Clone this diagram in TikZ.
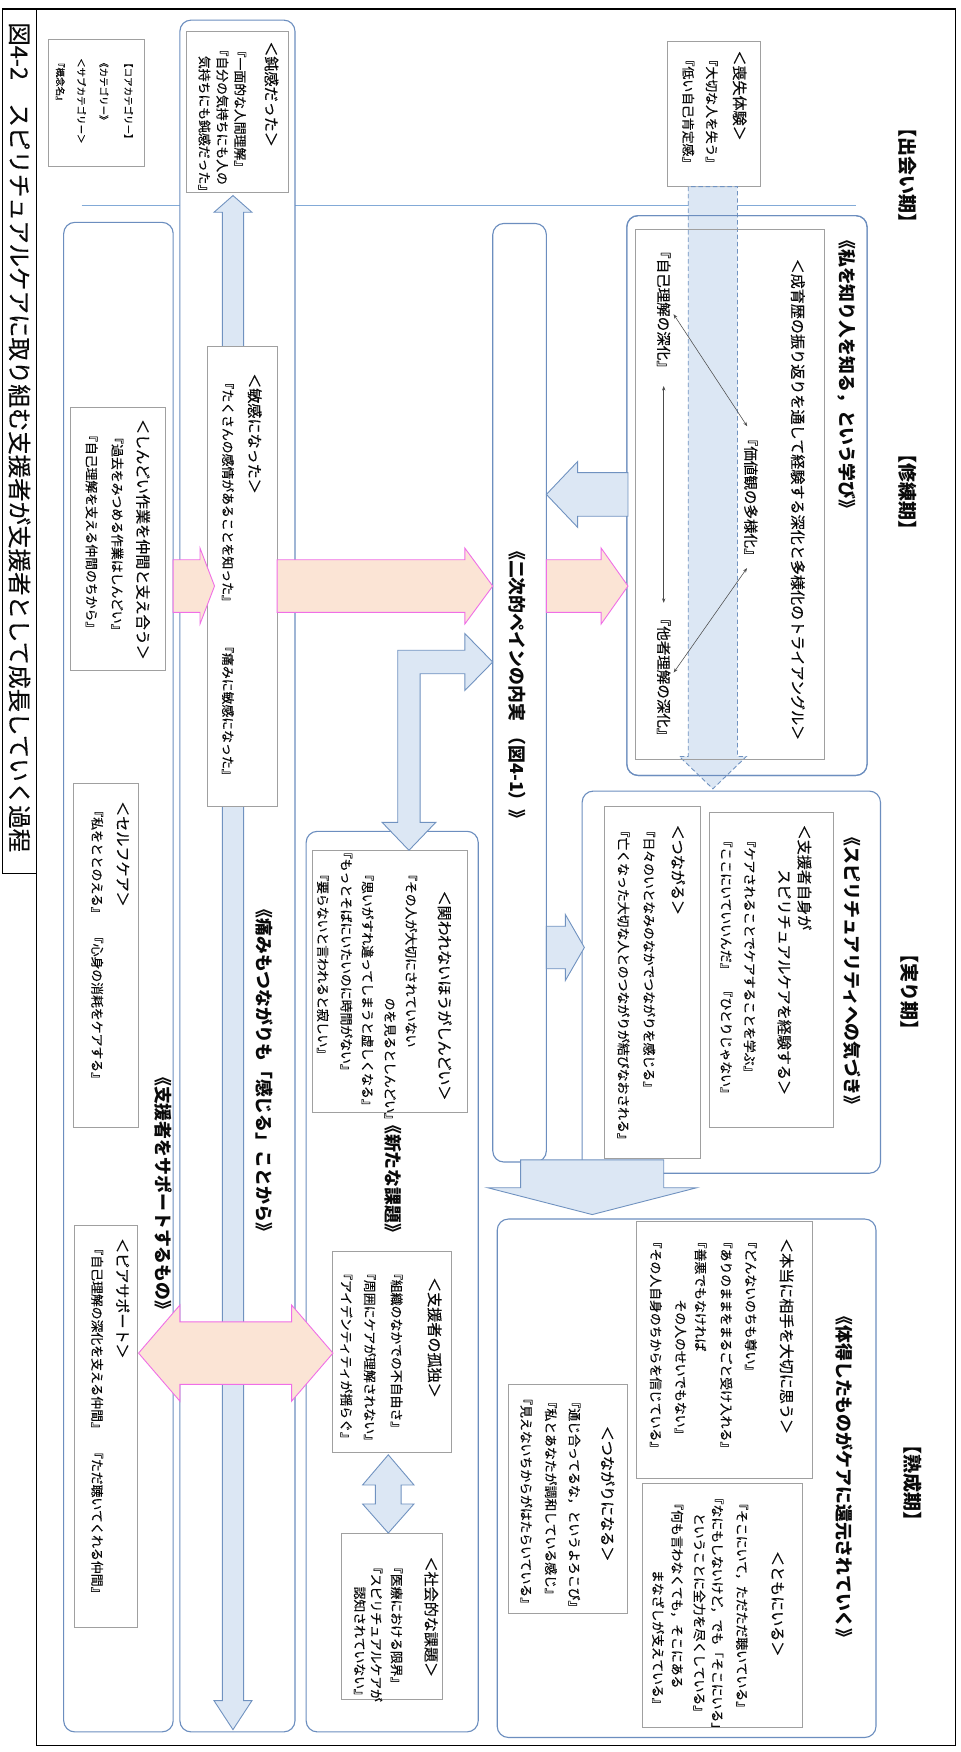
\documentclass[tikz,border=0pt]{standalone}
\usepackage{fontspec}
\setmainfont{Noto Sans CJK JP}
\newfontfamily\medf{Noto Sans CJK JP}[FakeBold=0.35]
\usetikzlibrary{arrows.meta}

\definecolor{contblue}{RGB}{108,142,191}
\definecolor{boxgray}{RGB}{160,160,160}
\definecolor{afill}{RGB}{220,231,244}
\definecolor{aline}{RGB}{112,146,192}
\definecolor{pfill}{RGB}{251,228,213}
\definecolor{pline}{RGB}{240,110,230}
\definecolor{sepblue}{RGB}{130,170,215}
\definecolor{ink}{RGB}{10,10,10}

\newcommand\Ftitle{\medf\fontsize{21}{24}\selectfont}
\newcommand\Fphase{\bfseries\fontsize{17}{20}\selectfont}
\newcommand\Fcat{\bfseries\fontsize{16}{19}\selectfont}
\newcommand\Fsub{\medf\fontsize{13.5}{16}\selectfont}
\newcommand\Fcon{\medf\fontsize{11.5}{14}\selectfont}
\newcommand\Ftri{\medf\fontsize{13}{15}\selectfont}
\newcommand\Fleg{\medf\fontsize{8.5}{10}\selectfont}

% box node from corner coordinates: name, style, x1, y1, x2, y2
\newcommand\mkbox[6]{%
  \pgfmathsetmacro\mkbw{#5-(#3)}%
  \pgfmathsetmacro\mkbh{#6-(#4)}%
  \node[#2, minimum width=\mkbw pt, minimum height=\mkbh pt, inner sep=0pt, outer sep=0pt]
    (#1) at ({(#3+#5)/2},{(#4+#6)/2}) {};}
% block arrows: style, start, head base, tip, centre line, shaft half width, head half width
\newcommand\harrow[7]{%
  \draw[#1] (#2,{#5-#6}) -- (#3,{#5-#6}) -- (#3,{#5-#7}) -- (#4,#5) -- (#3,{#5+#7})
    -- (#3,{#5+#6}) -- (#2,{#5+#6}) -- cycle;}
\newcommand\varrow[7]{%
  \draw[#1] ({#5-#6},#2) -- ({#5-#6},#3) -- ({#5-#7},#3) -- (#5,#4) -- ({#5+#7},#3)
    -- ({#5+#6},#3) -- ({#5+#6},#2) -- cycle;}
% double block arrows: style, tip 1, base 1, base 2, tip 2, centre line, shaft half, head half
\newcommand\hdarrow[8]{%
  \draw[#1] (#2,#6) -- (#3,{#6-#8}) -- (#3,{#6-#7}) -- (#4,{#6-#7}) -- (#4,{#6-#8}) -- (#5,#6)
    -- (#4,{#6+#8}) -- (#4,{#6+#7}) -- (#3,{#6+#7}) -- (#3,{#6+#8}) -- cycle;}
\newcommand\vdarrow[8]{%
  \draw[#1] (#6,#2) -- ({#6-#8},#3) -- ({#6-#7},#3) -- ({#6-#7},#4) -- ({#6-#8},#4) -- (#6,#5)
    -- ({#6+#8},#4) -- ({#6+#7},#4) -- ({#6+#7},#3) -- ({#6+#8},#3) -- cycle;}

\begin{document}
\begin{tikzpicture}[x=1pt,y=-1pt,
  frm/.style={draw=black, line width=1.1pt},
  cont/.style={draw=contblue, line width=1pt, rounded corners=10pt, fill=white},
  ibox/.style={draw=boxgray, line width=0.9pt, fill=white},
  barrow/.style={draw=aline, line width=0.8pt, fill=afill},
  darrow/.style={draw=aline, line width=0.8pt, fill=afill, dash pattern=on 4pt off 2.5pt},
  parrow/.style={draw=pline, line width=0.8pt, fill=pfill},
  sepline/.style={draw=sepblue, line width=0.9pt},
  tline/.style={draw=black!70, line width=0.5pt, {Stealth[length=4pt,width=3pt]}-{Stealth[length=4pt,width=3pt]}},
  vt/.style={rotate=-90, anchor=west, inner sep=0pt, outer sep=0pt, text=ink},
  vc/.style={rotate=-90, anchor=center, inner sep=0pt, outer sep=0pt, text=ink}]

\useasboundingbox (0,0) rectangle (860,1568);
\fill[white] (0,0) rectangle (860,1568);

% outer frame and title strip
\mkbox{outer}{frm}{33}{8}{855}{1562}
\mkbox{strip}{frm}{2}{8}{33}{782}
\node[vt,font=\Ftitle] (title) at (17.5,20) {図4-2　スピリチュアルケアに取り組む支援者が支援者として成長していく過程};

% phase separator
\coordinate (sepL) at (73,184);
\coordinate (sepR) at (766,184);
\draw[sepline] (sepL) -- (sepR);

% legend
\mkbox{legend}{ibox}{43}{35}{129}{149}
\node[vt,font=\Fleg] (legA) at (115,52) {【コアカテゴリー】};
\node[vt,font=\Fleg] (legB) at (93,52) {《カテゴリー》};
\node[vt,font=\Fleg] (legC) at (73,52) {＜サブカテゴリー＞};
\node[vt,font=\Fleg] (legD) at (54,52) {『概念名』};

% rounded containers
\mkbox{colL}{cont}{57}{199}{155}{1550}
\mkbox{colT}{cont}{161}{18}{264}{1550}
\mkbox{pain}{cont}{441}{200}{489}{1040}
\mkbox{learn}{cont}{561}{193}{776}{694}
\mkbox{spirit}{cont}{521}{708}{788}{1050}
\mkbox{issue}{cont}{274}{744}{428}{1550}
\mkbox{back}{cont}{445}{1091}{784}{1555}

% long vertical double arrow in the middle column
\vdarrow{barrow}{175}{190}{1522}{1548}{208.5}{9.5}{17}

% sub-category boxes
\mkbox{dull}{ibox}{167}{28}{258}{172}
\mkbox{sens}{ibox}{186}{310}{248}{722}
\mkbox{hard}{ibox}{63}{365}{148}{600}
\mkbox{self}{ibox}{66}{701}{124}{1009}
\mkbox{peer}{ibox}{67}{1097}{123}{1457}
\mkbox{loss}{ibox}{597}{37}{681}{167}
\mkbox{tri}{ibox}{569}{205}{738}{680}
\mkbox{own}{ibox}{635}{727}{746}{1009}
\mkbox{conn}{ibox}{541}{722}{627}{1037}
\mkbox{truly}{ibox}{570}{1093}{727}{1323}
\mkbox{with}{ibox}{575}{1328}{718}{1546}
\mkbox{bond}{ibox}{455}{1239}{562}{1444}
\mkbox{nocare}{ibox}{280}{761}{418}{996}
\mkbox{alone}{ibox}{298}{1120}{404}{1300}
\mkbox{social}{ibox}{306}{1372}{396}{1521}

% dashed arrow from the loss experience downwards
\varrow{darrow}{167}{677}{706}{638}{22}{30}
\draw[draw=boxgray, line width=0.9pt] (tri.north west) rectangle (tri.south east);
\draw[draw=contblue, line width=1pt, rounded corners=10pt] (learn.north west) rectangle (learn.south east);

% pink arrows
\harrow{parrow}{155}{179}{192}{524.5}{23.5}{34}
\harrow{parrow}{248}{416}{441}{524.5}{23.5}{34}
\harrow{parrow}{489}{538}{562}{524.5}{23.5}{34}
\hdarrow{parrow}{124}{161}{261}{298}{1211}{28}{43}

% blue arrows
\harrow{barrow}{562}{517}{489}{442.5}{19.5}{29.5}
\harrow{barrow}{489}{506}{523}{848}{19}{29.5}
\varrow{barrow}{1038}{1063}{1087}{530}{64}{93.5}
\vdarrow{barrow}{1302}{1329}{1346}{1372}{347.5}{11.5}{23}
\draw[barrow] (441,592.5) -- (416,567) -- (416,582) -- (356,582) -- (356,736) -- (342,736)
  -- (366,761) -- (390,736) -- (376,736) -- (376,603) -- (416,603) -- (416,618) -- cycle;

% phase labels
\node[vc,font=\Fphase] (ph1) at (812,157) {【出会い期】};
\node[vc,font=\Fphase] (ph2) at (812,440) {【修練期】};
\node[vc,font=\Fphase] (ph3) at (814,888) {【実り期】};
\node[vc,font=\Fphase] (ph4) at (817,1327) {【熟成期】};

% loss experience
\node[vt,font=\Fsub] (lossH) at (662,45) {＜喪失体験＞};
\node[vt,font=\Fcon] (lossA) at (637,48) {『大切な人を失う』};
\node[vt,font=\Fcon] (lossB) at (616,48) {『低い自己肯定感』};

% numb / sensitive
\node[vt,font=\Fsub] (dullH) at (243,37) {＜鈍感だった＞};
\node[vt,font=\Fcon] (dullA) at (215,40) {『一面的な人間理解』};
\node[vt,font=\Fcon] (dullB) at (199,39) {『自分の気持ちにも人の};
\node[vt,font=\Fcon] (dullC) at (183,50) {気持ちにも鈍感だった』};
\node[vt,font=\Fsub] (sensH) at (228,334) {＜敏感になった＞};
\node[vt,font=\Fcon] (sensA) at (204,337) {『たくさんの感情があることを知った』\hspace{29pt}『痛みに敏感になった』};
\node[vc,font=\Fcat] (colTlab) at (237,958) {《痛みもつながりも「感じる」ことから》};

% supporting column
\node[vt,font=\Fsub] (hardH) at (128,375) {＜しんどい作業を仲間と支え合う＞};
\node[vt,font=\Fcon] (hardA) at (105,386) {『過去をみつめる作業はしんどい』};
\node[vt,font=\Fcon] (hardB) at (82,384) {『自己理解を支える仲間のちから』};
\node[vt,font=\Fsub] (selfH) at (110,717) {＜セルフケア＞};
\node[vt,font=\Fcon] (selfA) at (87,720) {『私をととのえる』\hspace{10pt}『心身の消耗をケアする』};
\node[vt,font=\Fsub] (peerH) at (110,1108) {＜ピアサポート＞};
\node[vt,font=\Fcon] (peerA) at (87,1112) {『自己理解の深化を支える仲間』\hspace{10pt}『ただ聴いてくれる仲間』};
\node[vc,font=\Fcat] (colLlab) at (146,1068) {《支援者をサポートするもの》};

% secondary pain
\node[vc,font=\Fcat] (painlab) at (463,613) {《二次的ペインの内実\hspace{6pt}（図4-1）》};

% learning to know oneself and others
\node[vc,font=\Fcat] (learnlab) at (758,335) {《私を知り人を知る，という学び》};
\node[vc,font=\Fsub] (triH) at (714,447) {＜成育歴の振り返りを通して経験する深化と多様化のトライアングル＞};
\node[vc,font=\Ftri] (selfU) at (594,277) {『自己理解の深化』};
\node[vc,font=\Ftri] (value) at (672,445) {『価値観の多様化』};
\node[vc,font=\Ftri] (otherU) at (594,606) {『他者理解の深化』};
\draw[tline, shorten <=5pt, shorten >=6pt] (selfU.north) -- (value.west);
\draw[tline, shorten <=10pt, shorten >=8pt] (selfU.east) -- (otherU.west);
\draw[tline, shorten <=6pt, shorten >=5pt] (value.east) -- (otherU.north);

% awareness of spirituality
\node[vc,font=\Fcat] (spiritlab) at (763,869) {《スピリチュアリティへの気づき》};
\node[vt,font=\Fsub] (ownH) at (720,738) {＜支援者自身が};
\node[vt,font=\Fsub] (ownH2) at (702,778) {スピリチュアルケアを経験する＞};
\node[vt,font=\Fcon] (ownA) at (671,747) {『ケアされることでケアすることを学ぶ』};
\node[vt,font=\Fcon] (ownB) at (650,747) {『ここにいていいんだ』\hspace{8pt}『ひとりじゃない』};
\node[vt,font=\Fsub] (connH) at (607,738) {＜つながる＞};
\node[vt,font=\Fcon] (connA) at (581,738) {『日々のいとなみのなかでつながりを感じる』};
\node[vt,font=\Fcon] (connB) at (558,738) {『亡くなった大切な人とのつながりが結びなおされる』};

% what has been acquired returns to care
\node[vc,font=\Fcat] (backlab) at (756,1322) {《体得したものがケアに還元されていく》};
\node[vt,font=\Fsub] (trulyH) at (704,1108) {＜本当に相手を大切に思う＞};
\node[vt,font=\Fcon] (trulyA) at (672,1106) {『どんないのちも尊い』};
\node[vt,font=\Fcon] (trulyB) at (650,1106) {『ありのままをまるごと受け入れる』};
\node[vt,font=\Fcon] (trulyC) at (627,1106) {『善悪でもなければ};
\node[vt,font=\Fcon] (trulyD) at (609,1163) {その人のせいでもない』};
\node[vt,font=\Fcon] (trulyE) at (587,1106) {『その人自身のちからを信じている』};
\node[vt,font=\Fsub] (withH) at (696,1388) {＜ともにいる＞};
\node[vt,font=\Fcon] (withA) at (664,1340) {『そこにいて，ただただ聴いている』};
\node[vt,font=\Fcon] (withB) at (642,1335) {『なにもしないけど，でも「そこにいる」};
\node[vt,font=\Fcon] (withC) at (626,1354) {ということに全力を尽くしている』};
\node[vt,font=\Fcon] (withD) at (606,1340) {『何も言わなくても，そこにある};
\node[vt,font=\Fcon] (withE) at (589,1405) {まなざしが支えている』};
\node[vt,font=\Fsub] (bondH) at (544,1276) {＜つながりになる＞};
\node[vt,font=\Fcon] (bondA) at (514,1249) {『通じ合ってるな，というよろこび』};
\node[vt,font=\Fcon] (bondB) at (493,1249) {『私とあなたが調和している感じ』};
\node[vt,font=\Fcon] (bondC) at (471,1246) {『見えないちからがはたらいている』};

% new challenges
\node[vc,font=\Fcat] (issuelab) at (352,1055) {《新たな課題》};
\node[vt,font=\Fsub] (nocareH) at (398,797) {＜関われないほうがしんどい＞};
\node[vt,font=\Fcon] (nocareA) at (368,777) {『その人が大切にされていない};
\node[vt,font=\Fcon] (nocareB) at (349,893) {のを見るとしんどい』};
\node[vt,font=\Fcon] (nocareC) at (329,777) {『思いがすれ違ってしまうと虚しくなる』};
\node[vt,font=\Fcon] (nocareD) at (310,757) {『もっとそばにいたいのに時間がない』};
\node[vt,font=\Fcon] (nocareE) at (289,777) {『要らないと言われると寂しい』};
\node[vt,font=\Fsub] (aloneH) at (389,1143) {＜支援者の孤独＞};
\node[vt,font=\Fcon] (aloneA) at (355,1134) {『組織のなかでの不自由さ』};
\node[vt,font=\Fcon] (aloneB) at (331,1134) {『周囲にケアが理解されない』};
\node[vt,font=\Fcon] (aloneC) at (310,1134) {『アイデンティティが揺らぐ』};
\node[vt,font=\Fsub] (socialH) at (386,1393) {＜社会的な課題＞};
\node[vt,font=\Fcon] (socialA) at (355,1397) {『医療における限界』};
\node[vt,font=\Fcon] (socialB) at (337,1397) {『スピリチュアルケアが};
\node[vt,font=\Fcon] (socialC) at (322,1420) {認知されていない』};

\end{tikzpicture}
\end{document}
